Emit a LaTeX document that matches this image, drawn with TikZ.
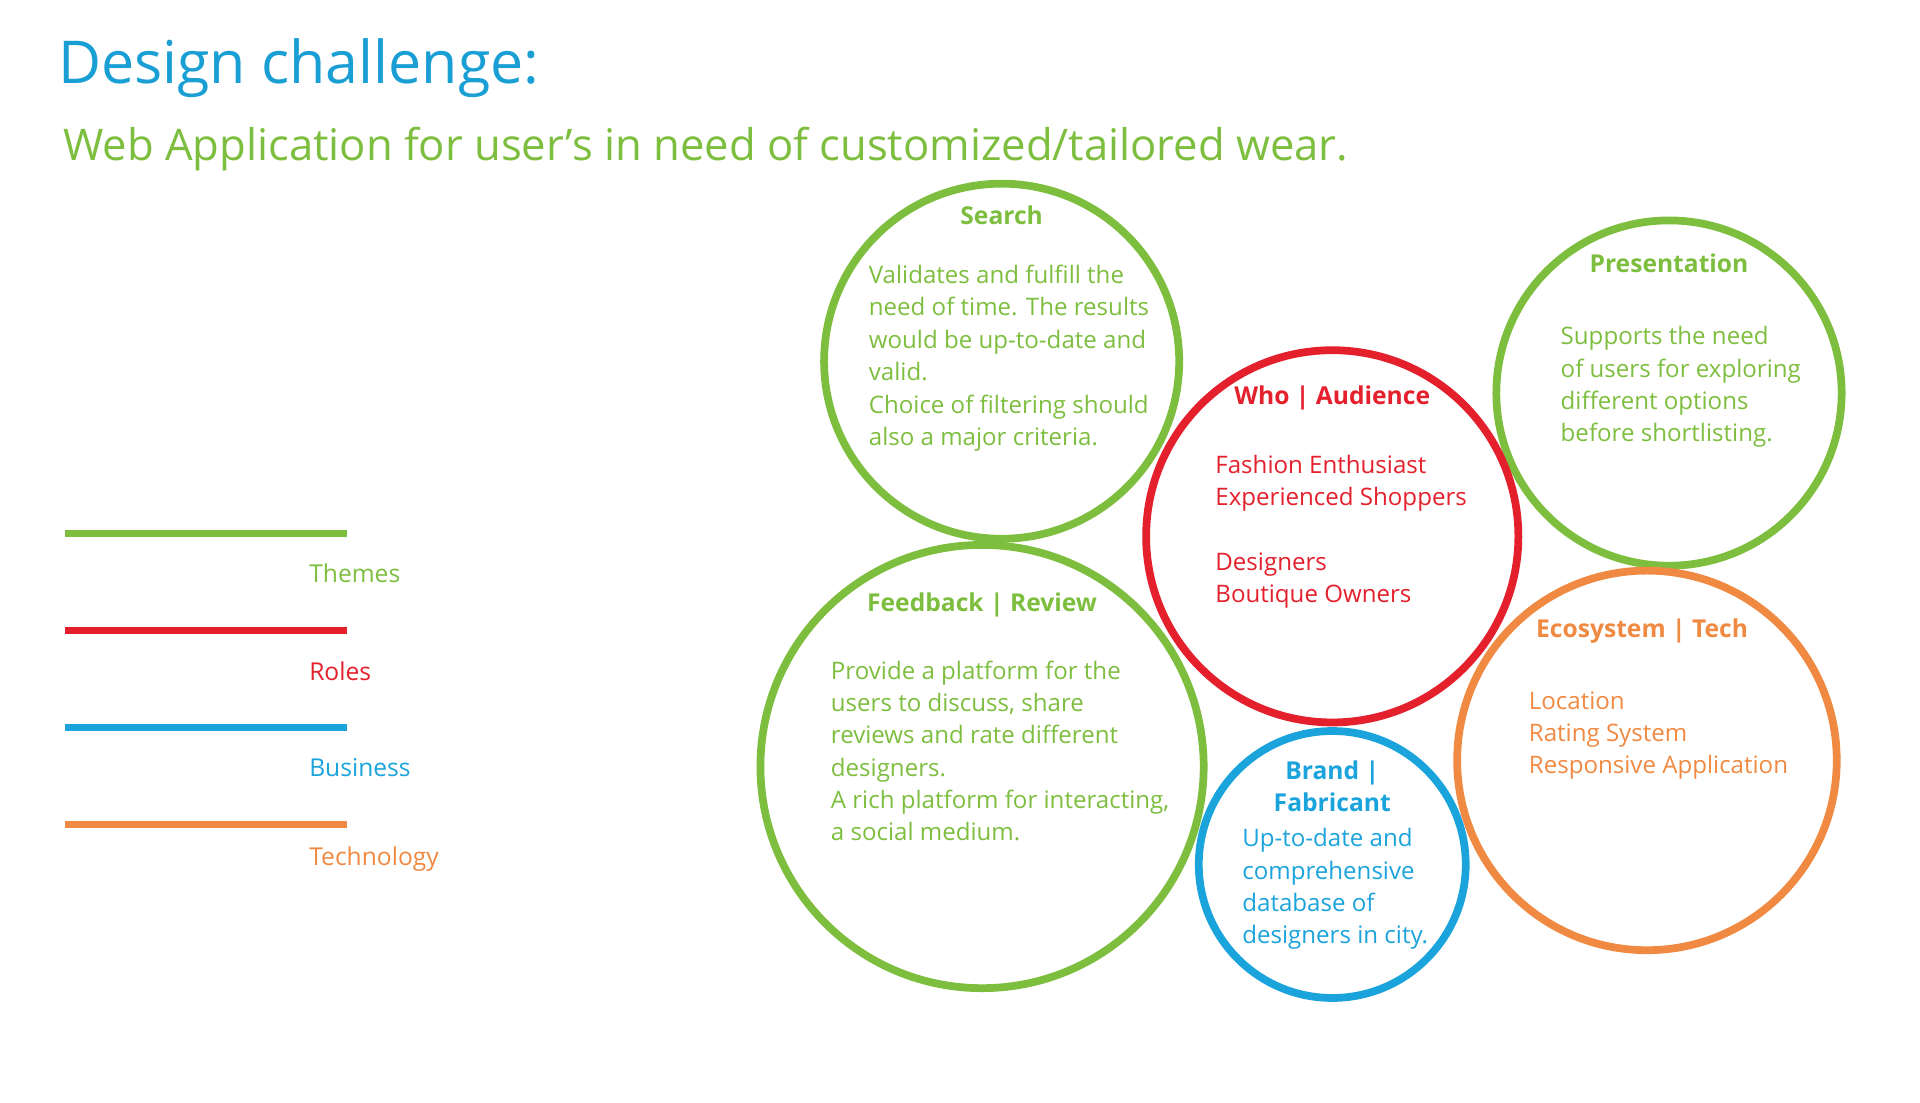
\documentclass[tikz,border=0pt]{standalone}
\usepackage{fontspec}
\setmainfont{Open Sans}
\usetikzlibrary{positioning}
\definecolor{cgreen}{HTML}{7DBE3F}
\definecolor{cred}{HTML}{E3202C}
\definecolor{cblue}{HTML}{1BA3DC}
\definecolor{corange}{HTML}{F08A42}
\definecolor{ctitle}{HTML}{1A9FD5}
\tikzset{
  circ/.style={line width=2.2pt},
  ttl/.style={font=\fontsize{7}{9.2}\selectfont\bfseries, inner sep=0pt},
  body/.style={font=\fontsize{6.85}{9.2}\selectfont, align=left, anchor=north west, inner sep=0pt},
  leg/.style={line width=2pt},
  legtxt/.style={font=\fontsize{7}{9}\selectfont, anchor=west, inner sep=0pt}
}
\begin{document}
\begin{tikzpicture}[x=0.012245cm, y=-0.012245cm]
    \useasboundingbox (0,0) rectangle (1568,900);
    % Heading
    \node [anchor=west, inner sep=0pt, text=ctitle, font=\fontsize{16.8}{18}\selectfont] (head) at (47,56) {Design challenge:};
    \node [anchor=west, inner sep=0pt, text=cgreen, font=\fontsize{12.4}{14}\selectfont] (sub) at (51,122) {Web Application for user’s in need of customized/tailored wear.};

    % Legend
    \coordinate (l1a) at (53,436); \coordinate (l1b) at (283,436);
    \coordinate (l2a) at (53,515); \coordinate (l2b) at (283,515);
    \coordinate (l3a) at (53,594); \coordinate (l3b) at (283,594);
    \coordinate (l4a) at (53,673); \coordinate (l4b) at (283,673);
    \draw [leg, cgreen] (l1a) -- (l1b);
    \draw [leg, cred] (l2a) -- (l2b);
    \draw [leg, cblue] (l3a) -- (l3b);
    \draw [leg, corange] (l4a) -- (l4b);
    \node [legtxt, text=cgreen] (themes) at (252,468) {Themes};
    \node [legtxt, text=cred] (roles) at (252,548) {Roles};
    \node [legtxt, text=cblue] (business) at (252,627) {Business};
    \node [legtxt, text=corange] (tech) at (252,702) {Technology};

    % Circles
    \draw [circ, cgreen] (818,295) circle (145);
    \draw [circ, cgreen] (1363,321) circle (141);
    \draw [circ, cred] (1088,438) circle (152);
    \draw [circ, cgreen] (802,626) circle (181);
    \draw [circ, corange] (1345,621) circle (155);
    \draw [circ, cblue] (1088,706) circle (109);

    % Search
    \node [ttl, text=cgreen] (search) at (818,176) {Search};
    \node [body, text=cgreen] (searchtxt) at (709,216) {Validates and fulfill the\\need of time. The results\\would be up-to-date and\\valid.\\Choice of filtering should\\also a major criteria.};
    % Presentation
    \node [ttl, text=cgreen] (pres) at (1363,215) {Presentation};
    \node [body, text=cgreen] (prestxt) at (1274,266) {Supports the need\\of users for exploring\\different options\\before shortlisting.};
    % Who | Audience
    \node [ttl, text=cred] (who) at (1088,325) {Who | Audience};
    \node [body, text=cred] (whotxt) at (992,371) {Fashion Enthusiast\\Experienced Shoppers\\[9.2pt]Designers\\Boutique Owners};
    % Feedback | Review
    \node [ttl, text=cgreen] (feed) at (802,494) {Feedback | Review};
    \node [body, text=cgreen] (feedtxt) at (678,539) {Provide a platform for the\\users to discuss, share\\reviews and rate different\\designers.\\A rich platform for interacting,\\a social medium.};
    % Ecosystem | Tech
    \node [ttl, text=corange] (eco) at (1341,515) {Ecosystem | Tech};
    \node [body, text=corange] (ecotxt) at (1248,564) {Location\\Rating System\\Responsive Application};
    % Brand | Fabricant
    \node [ttl, text=cblue, align=center] (brand) at (1088,642) {Brand |\\Fabricant};
    \node [body, text=cblue] (brandtxt) at (1014,676) {Up-to-date and\\comprehensive\\database of\\designers in city.};
\end{tikzpicture}
\end{document}
